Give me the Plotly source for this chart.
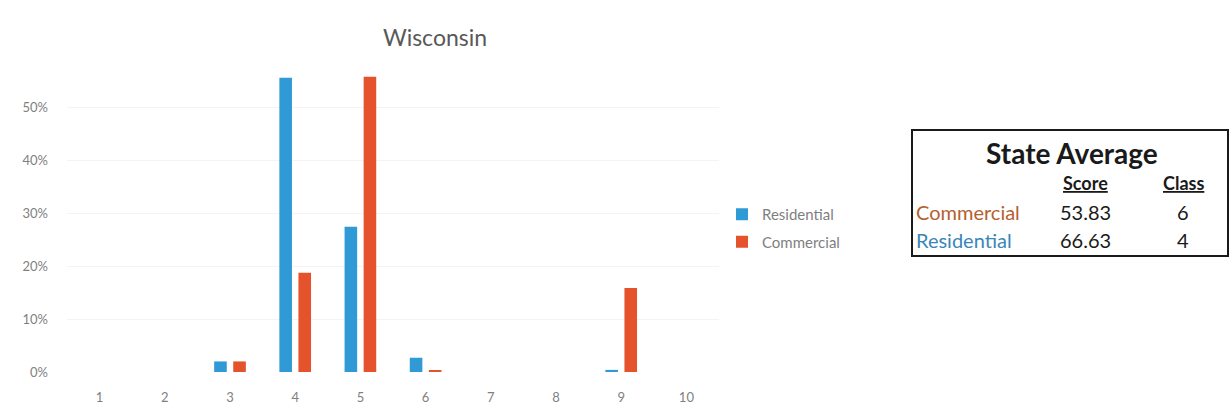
import plotly.graph_objects as go

classes = [1, 2, 3, 4, 5, 6, 7, 8, 9, 10]
residential = [0, 0, 0.02, 0.557, 0.275, 0.027, 0, 0, 0.004, 0]
commercial = [0, 0, 0.02, 0.188, 0.559, 0.003, 0, 0, 0.159, 0]
y_ticks = [0, 0.1, 0.2, 0.3, 0.4, 0.5]

table_title = "State Average"
table_headers = ["Score", "Class"]
table_rows = ["Commercial", "Residential"]
table_scores = ["53.83", "66.63"]
table_classes = ["6", "4"]

W, H = 1232, 416
def px(x):
    return x / W
def py(y):
    return 1 - y / H

BLUE = "#2F9AD6"
RED = "#E4532B"
FONT = "Lato"

fig = go.Figure()
fig.add_trace(go.Bar(x=classes, y=residential, name="Residential",
                     marker=dict(color=BLUE, line=dict(width=0)),
                     legendgroup="r"))
fig.add_trace(go.Bar(x=classes, y=commercial, name="Commercial",
                     marker=dict(color=RED, line=dict(width=0)),
                     legendgroup="c"))

fig.update_layout(
    width=W, height=H,
    margin=dict(l=0, r=0, t=0, b=0, autoexpand=False),
    paper_bgcolor="white", plot_bgcolor="white",
    font=dict(family=FONT, color="#7f7f7f", size=13),
    barmode="group", bargap=0.415, bargroupgap=0.34,
    title=dict(text="Wisconsin", x=px(435), xanchor="center", y=py(38), yanchor="middle",
               font=dict(family=FONT, size=23, color="#595959")),
    xaxis=dict(domain=[px(67), px(719)], range=[0.5, 10.5], tickmode="array",
               tickvals=classes, ticktext=[str(c) for c in classes],
               showgrid=False, zeroline=False, showline=False, ticks="",
               automargin=False,
               ticklabelstandoff=16, tickfont=dict(size=13, color="#7f7f7f")),
    yaxis=dict(domain=[py(372), py(55)], range=[0, 0.6], tickmode="array",
               tickvals=y_ticks, tickformat=".0%", showgrid=True, gridcolor="#f4f4f4",
               zeroline=False, showline=False, ticks="", ticklabelstandoff=18,
               automargin=False,
               tickfont=dict(size=13, color="#7f7f7f")),
    legend=dict(x=px(722), y=py(198), xanchor="left", yanchor="top",
                traceorder="grouped", tracegroupgap=5, itemwidth=30,
                font=dict(size=15, color="#7f7f7f"), bgcolor="rgba(0,0,0,0)"),
)

# State Average table
fig.add_shape(type="rect", xref="paper", yref="paper",
              x0=px(912), x1=px(1228), y0=py(256), y1=py(130),
              line=dict(color="#1a1a1a", width=2), fillcolor="white")

fig.add_annotation(text="<b>" + table_title + "</b>", xref="paper", yref="paper",
                   x=px(1072), y=py(153), xanchor="center", yanchor="middle", showarrow=False,
                   font=dict(family=FONT, size=28, color="#1a1a1a"))
header_x = [1085, 1183]
for hx, h in zip(header_x, table_headers):
    fig.add_annotation(text="<b><u>" + h + "</u></b>", xref="paper", yref="paper",
                       x=px(hx), y=py(183), xanchor="center", yanchor="middle", showarrow=False,
                       font=dict(family=FONT, size=18, color="#1a1a1a"))
row_y = [212, 240]
row_colors = ["#B5602F", "#3A86B8"]
for ry, name, col, sc, cl in zip(row_y, table_rows, row_colors, table_scores, table_classes):
    fig.add_annotation(text=name, xref="paper", yref="paper",
                       x=px(914), y=py(ry), xanchor="left", yanchor="middle", showarrow=False,
                       font=dict(family=FONT, size=20, color=col))
    fig.add_annotation(text=sc, xref="paper", yref="paper",
                       x=px(header_x[0]), y=py(ry), xanchor="center", yanchor="middle", showarrow=False,
                       font=dict(family=FONT, size=20, color="#1a1a1a"))
    fig.add_annotation(text=cl, xref="paper", yref="paper",
                       x=px(header_x[1]), y=py(ry), xanchor="center", yanchor="middle", showarrow=False,
                       font=dict(family=FONT, size=20, color="#1a1a1a"))

fig.write_html("out.html", config={"displayModeBar": False},
               post_script="document.body.style.margin='0';document.body.style.padding='0';")
